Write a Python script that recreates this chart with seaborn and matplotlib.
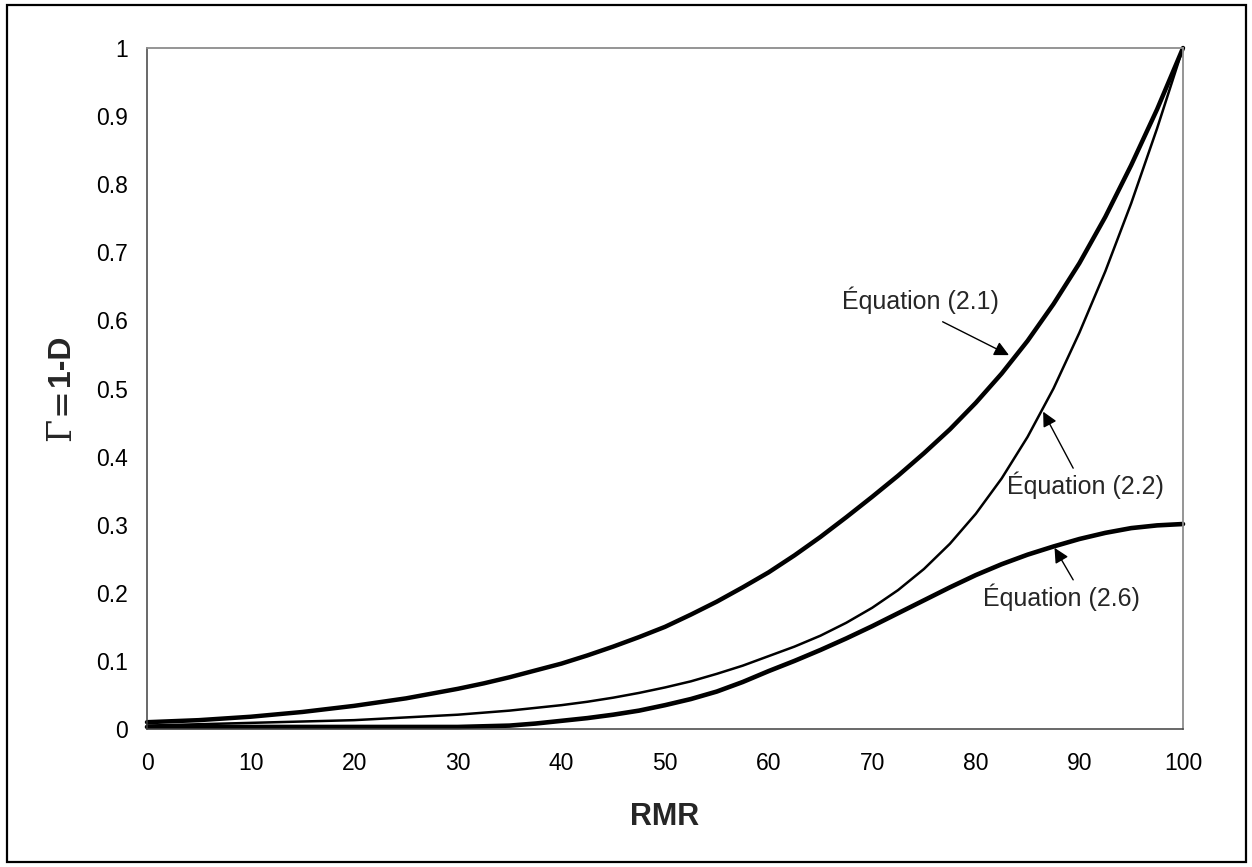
import matplotlib
matplotlib.use("Agg")
import matplotlib.pyplot as plt
import seaborn as sns
import pandas as pd
from matplotlib.patches import Rectangle

# ---- data ----
rmr = [0, 5, 10, 15, 20, 25, 30, 32.5, 35, 37.5, 40, 42.5, 45, 47.5, 50, 52.5, 55, 57.5,
       60, 62.5, 65, 67.5, 70, 72.5, 75, 77.5, 80, 82.5, 85, 87.5, 90, 92.5, 95, 97.5, 100]
eq_2_1 = [0.010, 0.013, 0.018, 0.025, 0.034, 0.045, 0.059, 0.067, 0.076, 0.086, 0.096,
          0.108, 0.121, 0.135, 0.150, 0.168, 0.187, 0.208, 0.230, 0.255, 0.282, 0.311,
          0.341, 0.372, 0.405, 0.440, 0.479, 0.522, 0.570, 0.624, 0.684, 0.752, 0.828,
          0.910, 1.000]
eq_2_2 = [0.005, 0.007, 0.009, 0.011, 0.013, 0.017, 0.021, 0.024, 0.027, 0.031, 0.035,
          0.040, 0.046, 0.053, 0.061, 0.070, 0.081, 0.093, 0.107, 0.121, 0.137, 0.156,
          0.178, 0.204, 0.235, 0.272, 0.316, 0.368, 0.429, 0.500, 0.582, 0.672, 0.772,
          0.882, 1.000]
eq_2_6 = [0.003, 0.003, 0.003, 0.003, 0.003, 0.003, 0.003, 0.004, 0.005, 0.008, 0.012,
          0.016, 0.021, 0.027, 0.035, 0.044, 0.055, 0.069, 0.085, 0.100, 0.116, 0.133,
          0.151, 0.170, 0.189, 0.208, 0.226, 0.242, 0.256, 0.268, 0.279, 0.288, 0.295,
          0.299, 0.301]
x_ticks = [0, 10, 20, 30, 40, 50, 60, 70, 80, 90, 100]
y_ticks = [0, 0.1, 0.2, 0.3, 0.4, 0.5, 0.6, 0.7, 0.8, 0.9, 1]
y_tick_labels = ["0", "0.1", "0.2", "0.3", "0.4", "0.5", "0.6", "0.7", "0.8", "0.9", "1"]
labels = ["Équation (2.1)", "Équation (2.2)", "Équation (2.6)"]

sns.set_style("white")
plt.rcParams["font.family"] = ["Liberation Sans", "DejaVu Sans"]

df = pd.DataFrame({"RMR": rmr, "eq21": eq_2_1, "eq22": eq_2_2, "eq26": eq_2_6})

fig = plt.figure(figsize=(12.52, 8.67), dpi=100)
fig.patch.set_facecolor("white")
ax = fig.add_axes([147 / 1252, 1 - 729 / 867, (1183 - 147) / 1252, (729 - 48) / 867])

sns.lineplot(data=df, x="RMR", y="eq21", ax=ax, color="black", lw=3.2,
             estimator=None, sort=False, solid_capstyle="round",
             solid_joinstyle="round", clip_on=False)
sns.lineplot(data=df, x="RMR", y="eq22", ax=ax, color="black", lw=1.8,
             estimator=None, sort=False, solid_joinstyle="round", clip_on=False)
sns.lineplot(data=df, x="RMR", y="eq26", ax=ax, color="black", lw=3.3,
             estimator=None, sort=False, solid_joinstyle="round", clip_on=False)

ax.set_xlim(0, 100)
ax.set_ylim(0, 1)
ax.set_xticks(x_ticks)
ax.set_xticklabels([str(t) for t in x_ticks])
ax.set_yticks(y_ticks)
ax.set_yticklabels(y_tick_labels)
ax.tick_params(axis="both", which="major", direction="out", length=5.5, width=1,
               color="#404040", labelsize=16.5, labelcolor="black")
ax.tick_params(axis="y", pad=8)
ax.tick_params(axis="x", pad=11)
ax.set_facecolor("white")
for side in ["left", "bottom"]:
    ax.spines[side].set_color("#404040")
    ax.spines[side].set_linewidth(1.1)
for side in ["top", "right"]:
    ax.spines[side].set_color("#8c8c8c")
    ax.spines[side].set_linewidth(1.3)
    ax.spines[side].set_visible(True)

ax.set_xlabel("RMR", fontsize=22, fontweight="bold")
ax.xaxis.set_label_coords(0.5, (729 - 817) / 681)
ax.xaxis.label.set_va("center")
ax.set_ylabel("")

# y label: "Γ = 1-D"
fig.text(61 / 1252, 1 - 360 / 867, "1-D", rotation=90, ha="center", va="center",
         fontsize=23, fontweight="bold", family=["Liberation Sans", "DejaVu Sans"])
fig.text(61 / 1252, 1 - 401 / 867, "=", rotation=90, ha="center", va="center",
         fontsize=24, family=["DejaVu Serif"])
fig.text(61 / 1252, 1 - 429 / 867, "Γ", rotation=90, ha="center", va="center",
         fontsize=24, family=["DejaVu Serif"])

# annotations
arrow = dict(arrowstyle="-|>", color="black", lw=1.0, mutation_scale=22,
             shrinkA=0, shrinkB=0)
ax.text(74.7, 0.630, labels[0], fontsize=18, ha="center", va="center")
ax.annotate("", xy=(83.2, 0.549), xytext=(76.8, 0.598), arrowprops=arrow)
ax.text(90.6, 0.358, labels[1], fontsize=18, ha="center", va="center")
ax.annotate("", xy=(86.5, 0.466), xytext=(89.4, 0.383), arrowprops=arrow)
ax.text(88.3, 0.194, labels[2], fontsize=18, ha="center", va="center")
ax.annotate("", xy=(87.6, 0.266), xytext=(89.4, 0.219), arrowprops=arrow)

# figure frame
fig.patches.append(Rectangle((7 / 1252, 1 - 862 / 867), (1246 - 7) / 1252, (862 - 5) / 867,
                             transform=fig.transFigure, fill=False, edgecolor="black",
                             lw=1.6, zorder=10))

fig.savefig("out.png", dpi=100, facecolor="white")
